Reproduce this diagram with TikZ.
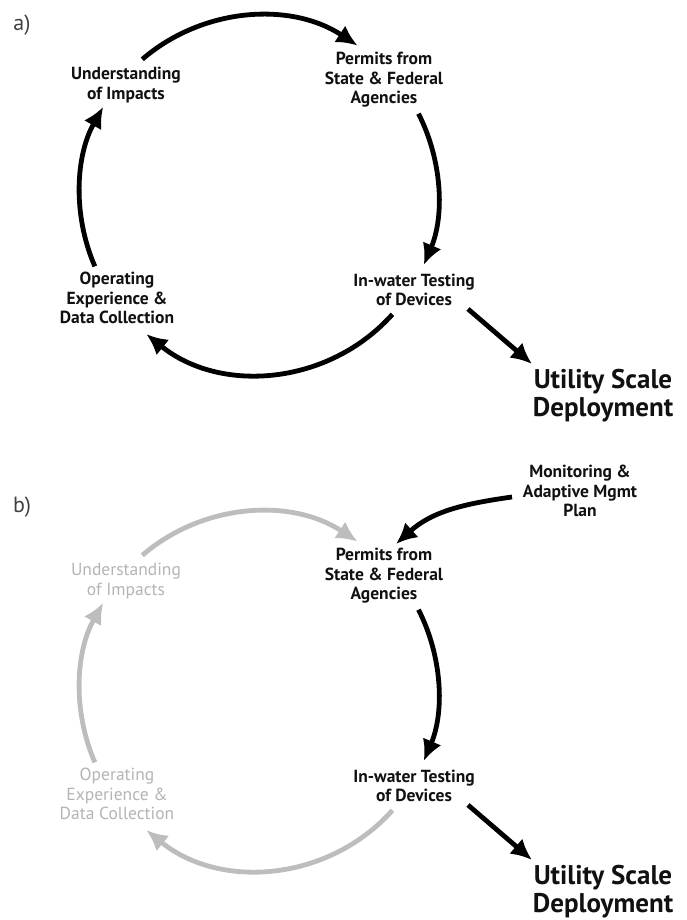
\documentclass[tikz,border=0pt]{standalone}
\usepackage{fontspec}
\setmainfont{PT Sans}
\usetikzlibrary{arrows.meta}
\definecolor{faded}{HTML}{BDBDBD}
\definecolor{fadedtext}{HTML}{B4B4B4}
\definecolor{ink}{HTML}{111111}
\begin{document}
\begin{tikzpicture}[x=1pt,y=1pt,
  lbl/.style={align=center,text=ink,font=\bfseries\fontsize{17.5}{19.5}\selectfont,inner sep=0pt},
  lblfaded/.style={align=center,text=fadedtext,font=\fontsize{17.5}{19.5}\selectfont,inner sep=0pt},
  big/.style={align=center,text=ink,font=\bfseries\fontsize{27}{28}\selectfont,inner sep=0pt},
  panel/.style={text=black!75,font=\fontsize{22}{24}\selectfont,inner sep=0pt},
  flow/.style={draw=black,line width=4.8pt,-{Latex[length=21pt,width=20pt]}},
  flowfaded/.style={flow,draw=faded,-{Latex[length=21pt,width=20pt,color=faded]}}]
\useasboundingbox (0,0) rectangle (686,920);

% ---------- a) full cycle ----------
\node[panel] (pa) at (22,895) {a)};
\coordinate (ca) at (259,725);
\node[lbl] (ua) at (126,835) {Understanding\\of Impacts};
\node[lbl] (pea) at (384,840) {Permits from\\State \& Federal\\Agencies};
\node[lbl] (iwa) at (414,630) {In-water Testing\\of Devices};
\node[lbl] (oea) at (117,622) {Operating\\Experience \&\\Data Collection};
\node[big] (usa) at (603,524) {Utility Scale\\Deployment};

\path (ca) ++(130.7:179) coordinate (ta1) (ca) ++(27:179) coordinate (ra1)
      (ca) ++(-41.8:179) coordinate (ba1) (ca) ++(203.5:179) coordinate (la1);
\draw[flow] (ta1) arc[start angle=130.7,end angle=56.6,radius=179];
\draw[flow] (ra1) arc[start angle=27,end angle=-23,radius=179];
\draw[flow] (ba1) arc[start angle=-41.8,end angle=-129,radius=179];
\draw[flow] (la1) arc[start angle=203.5,end angle=150.5,radius=179];
\coordinate (da1) at (468,611);
\coordinate (da2) at (532,556);
\draw[flow] (da1) -- (da2);

% ---------- b) permits with monitoring plan ----------
\node[panel] (pb) at (22,413) {b)};
\coordinate (cb) at (259,229);
\node[lblfaded] (ub) at (126,339) {Understanding\\of Impacts};
\node[lbl] (peb) at (384,344) {Permits from\\State \& Federal\\Agencies};
\node[lbl] (iwb) at (414,134) {In-water Testing\\of Devices};
\node[lblfaded] (oeb) at (117,126) {Operating\\Experience \&\\Data Collection};
\node[big] (usb) at (603,28) {Utility Scale\\Deployment};
\node[lbl] (mb) at (580,429) {Monitoring \&\\Adaptive Mgmt\\Plan};

\path (cb) ++(130.7:179) coordinate (tb1) (cb) ++(27:179) coordinate (rb1)
      (cb) ++(-41.8:179) coordinate (bb1) (cb) ++(203.5:179) coordinate (lb1);
\draw[flowfaded] (tb1) arc[start angle=130.7,end angle=56.6,radius=179];
\draw[flow] (rb1) arc[start angle=27,end angle=-23,radius=179];
\draw[flowfaded] (bb1) arc[start angle=-41.8,end angle=-129,radius=179];
\draw[flowfaded] (lb1) arc[start angle=203.5,end angle=150.5,radius=179];
\coordinate (db1) at (468,115);
\coordinate (db2) at (532,60);
\draw[flow] (db1) -- (db2);
\coordinate (mb1) at (512,423);
\coordinate (mb2) at (396,376);
\draw[flow] (mb1) to[out=188,in=42] (mb2);
\end{tikzpicture}
\end{document}
